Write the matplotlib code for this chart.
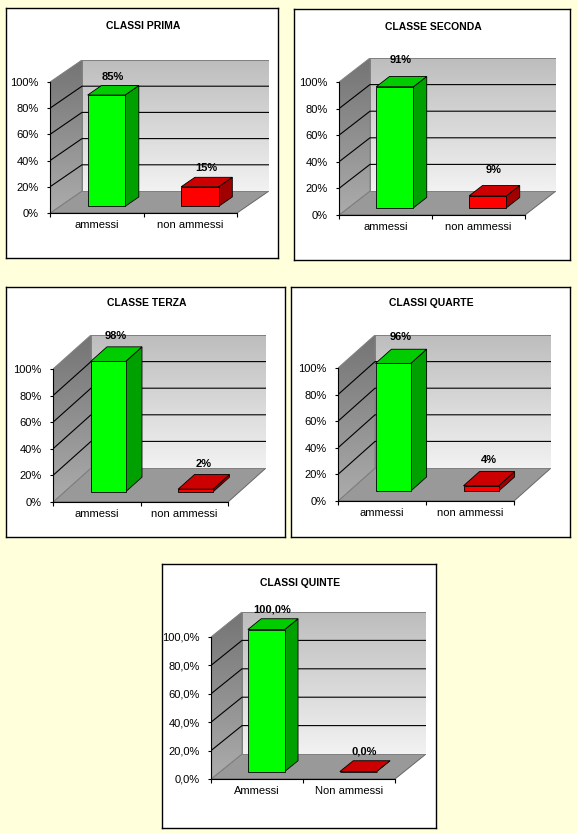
import numpy as np
import matplotlib
matplotlib.use('Agg')
import matplotlib.pyplot as plt
from matplotlib.patches import Polygon
from matplotlib.colors import to_rgb

plt.rcParams['font.family'] = ['Liberation Sans', 'DejaVu Sans']

W_PX, H_PX = 577, 833

# ---------------------------------------------------------------------------
# Data
# ---------------------------------------------------------------------------
titles = ['CLASSI PRIMA', 'CLASSE SECONDA', 'CLASSE TERZA', 'CLASSI QUARTE', 'CLASSI QUINTE']
categories = [['ammessi', 'non ammessi']] * 4 + [['Ammessi', 'Non ammessi']]
ammessi = [85, 91, 98, 96, 100]
non_ammessi = [15, 9, 2, 4, 0]
value_labels = [['85%', '15%'], ['91%', '9%'], ['98%', '2%'], ['96%', '4%'], ['100,0%', '0,0%']]
y_ticks = [0, 20, 40, 60, 80, 100]
y_labels_int = ['0%', '20%', '40%', '60%', '80%', '100%']
y_labels_dec = ['0,0%', '20,0%', '40,0%', '60,0%', '80,0%', '100,0%']

# ---------------------------------------------------------------------------
# Layout (pixels, y from top)
# ---------------------------------------------------------------------------
boxes = [(6, 8, 278, 258), (294, 9, 570, 260), (6, 287, 285, 537),
         (291, 287, 570, 537), (162, 564, 436, 828)]
fronts = [(50, 213, 187, 131), (339, 215, 186, 133), (53, 502, 175, 133),
          (338, 501, 176, 133), (211, 779, 184, 142)]
depths = [(32, 22), (31, 24), (38, 34), (37, 33), (31, 25)]
title_y = [26, 27, 303, 303, 583]
label_off = [9, 16, 11, 12, 9]

F0, F1 = 0.30, 0.73
BAR_W = 0.4
FRONT = ['#00ff00', '#ff0000']
TOP = ['#00cc00', '#cc0000']
SIDE = ['#00a000', '#a00000']

fig = plt.figure(figsize=(W_PX / 100, H_PX / 100), dpi=100)
fig.patch.set_facecolor('#ffffdc')


def grad_fill(ax, pts, c_top, c_bot, z):
    poly = Polygon(pts, closed=True, fc='none', ec='#808080', lw=0.7, zorder=z + 0.1)
    ax.add_patch(poly)
    xs, ys = zip(*pts)
    t = np.linspace(0, 1, 128)[:, None]
    img = np.array(to_rgb(c_top)) * (1 - t) + np.array(to_rgb(c_bot)) * t
    im = ax.imshow(img.reshape(128, 1, 3), extent=[min(xs), max(xs), min(ys), max(ys)],
                   origin='upper', aspect='auto', zorder=z, interpolation='bilinear')
    im.set_clip_path(poly)


def draw_panel(i):
    l, t, r, b = boxes[i]
    frame = fig.add_axes([l / W_PX, 1 - b / H_PX, (r - l) / W_PX, (b - t) / H_PX])
    frame.set_facecolor('white')
    frame.set_xticks([])
    frame.set_yticks([])
    for s in frame.spines.values():
        s.set_color('black')
        s.set_linewidth(1)
    frame.text(0.5 + 1.0 / (r - l), 1 - (title_y[i] - t) / (b - t), titles[i],
               transform=frame.transAxes, ha='center', va='center',
               fontsize=7.5, fontweight='bold')

    x0, y0, w, h = fronts[i]
    dxp, dyp = depths[i]
    ax = fig.add_axes([x0 / W_PX, 1 - y0 / H_PX, (w + dxp) / W_PX, (h + dyp) / H_PX])
    ax.set_facecolor('none')
    ddx = dxp / (w / 2.0)
    ddy = dyp / (h / 100.0)

    def P(x, v, f):
        return (x + f * ddx, v + f * ddy)

    n = len(categories[i])
    # floor and walls
    ax.add_patch(Polygon([P(0, 0, 0), P(n, 0, 0), P(n, 0, 1), P(0, 0, 1)],
                         closed=True, fc='#999999', ec='#666666', lw=0.7, zorder=1))
    grad_fill(ax, [P(0, 0, 0), P(0, 100, 0), P(0, 100, 1), P(0, 0, 1)],
              '#747474', '#acacac', 1)
    grad_fill(ax, [P(0, 0, 1), P(n, 0, 1), P(n, 100, 1), P(0, 100, 1)],
              '#bdbdbd', '#f2f2f2', 1)
    for v in y_ticks[1:-1]:
        a, c, d = P(0, v, 0), P(0, v, 1), P(n, v, 1)
        ax.plot([a[0], c[0], d[0]], [a[1], c[1], d[1]], color='black', lw=0.8, zorder=2)

    vals = [ammessi[i], non_ammessi[i]]
    for j, v in enumerate(vals):
        cx = j + 0.5
        hw = BAR_W / 2
        ax.bar(cx + F0 * ddx, v, width=BAR_W, bottom=F0 * ddy, color=FRONT[j],
               edgecolor='black', lw=0.6, zorder=5)
        ax.add_patch(Polygon([P(cx + hw, 0, F0), P(cx + hw, v, F0), P(cx + hw, v, F1),
                              P(cx + hw, 0, F1)], closed=True, fc=SIDE[j],
                             ec='black', lw=0.6, zorder=4))
        ax.add_patch(Polygon([P(cx - hw, v, F0), P(cx + hw, v, F0), P(cx + hw, v, F1),
                              P(cx - hw, v, F1)], closed=True, fc=TOP[j],
                             ec='black', lw=0.6, zorder=5.5))
        ax.annotate(value_labels[i][j], xy=(cx + 0.5 * ddx, v + F1 * ddy),
                    xytext=(0, label_off[i] * 0.72), textcoords='offset points',
                    ha='center', va='center', fontsize=8, fontweight='bold', zorder=7)

    ax.set_xlim(0, n + ddx)
    ax.set_ylim(0, 100 + ddy)
    ax.set_yticks(y_ticks)
    ax.set_yticklabels(y_labels_dec if i == 4 else y_labels_int)
    ax.tick_params(axis='y', direction='out', length=2.5, width=0.8, pad=5.5, labelsize=8)
    ax.set_xticks(range(n + 1))
    ax.set_xticklabels([])
    ax.set_xticks([k + 0.5 for k in range(n)], minor=True)
    ax.set_xticklabels(categories[i], minor=True)
    ax.tick_params(axis='x', which='major', direction='out', length=3, width=0.8)
    ax.tick_params(axis='x', which='minor', length=0, pad=5, labelsize=8)
    for s in ('top', 'right'):
        ax.spines[s].set_visible(False)
    ax.spines['left'].set_bounds(0, 100)
    ax.spines['bottom'].set_bounds(0, n)
    for s in ('left', 'bottom'):
        ax.spines[s].set_linewidth(0.8)
        ax.spines[s].set_zorder(3)


for i in range(len(titles)):
    draw_panel(i)

fig.savefig('out.png', dpi=100, facecolor=fig.get_facecolor())
